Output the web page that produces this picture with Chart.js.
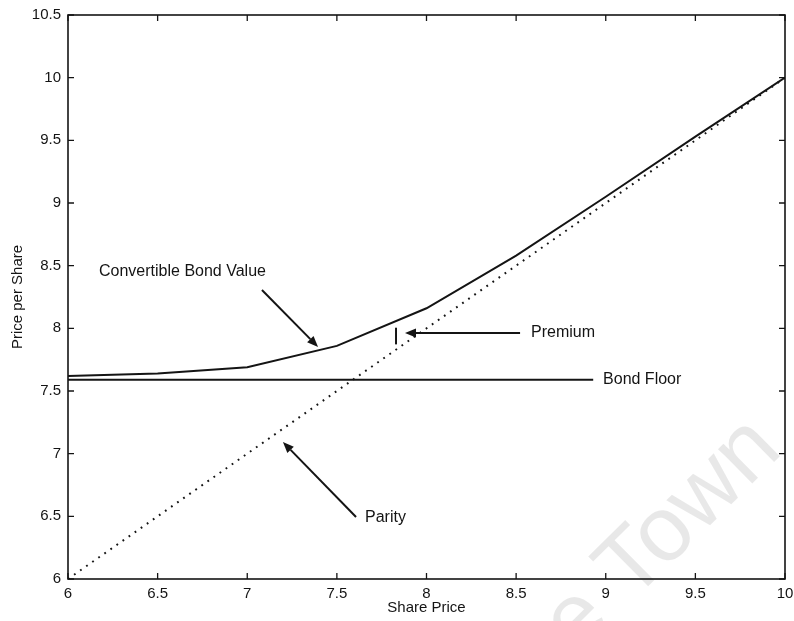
<!DOCTYPE html>
<html>
<head>
<meta charset="utf-8">
<script src="https://cdn.jsdelivr.net/npm/chart.js@4/dist/chart.umd.min.js"></script>
<style>
  html, body { margin: 0; padding: 0; background: #fff; }
  #wrap { width: 794px; height: 621px; }
</style>
</head>
<body>
<div id="wrap"><canvas id="c" width="794" height="621"></canvas></div>
<script>
// ---- data ----
const sharePrice = [6, 6.5, 7, 7.5, 8, 8.5, 9, 9.5, 10];
const convertibleBondValue = [7.62, 7.64, 7.69, 7.86, 8.16, 8.58, 9.05, 9.53, 10.0];
const parityX = [6, 10];
const parityY = [6, 10];
const bondFloorX = [6, 8.93];
const bondFloorY = [7.59, 7.59];
const xTickValues = [6, 6.5, 7, 7.5, 8, 8.5, 9, 9.5, 10];
const yTickValues = [6, 6.5, 7, 7.5, 8, 8.5, 9, 9.5, 10, 10.5];
const xTitle = 'Share Price';
const yTitle = 'Price per Share';

const FONT = '"Liberation Sans", Arial, Helvetica, sans-serif';
const INK = '#141414';

const toXY = (xs, ys) => xs.map((x, i) => ({ x: x, y: ys[i] }));

// annotations (text + arrows), placed in data coordinates
const annotations = {
  texts: [
    { text: 'Convertible Bond Value', x: 6.173, y: 8.45 },
    { text: 'Premium', x: 8.583, y: 7.963 },
    { text: 'Bond Floor', x: 8.985, y: 7.588 },
    { text: 'Parity', x: 7.657, y: 6.487 }
  ],
  arrows: [
    { from: [7.082, 8.306], to: [7.395, 7.851] },
    { from: [8.522, 7.963], to: [7.880, 7.963] },
    { from: [7.607, 6.495], to: [7.199, 7.093] }
  ],
  segments: [
    { from: [7.830, 8.005], to: [7.830, 7.872] }
  ]
};

const framePlugin = {
  id: 'frame',
  beforeDraw(chart) {
    // faint watermark
    const ctx = chart.ctx;
    ctx.save();
    ctx.translate(784, 452);
    ctx.rotate(-0.78);
    ctx.font = '92px ' + FONT;
    ctx.fillStyle = 'rgba(0,0,0,0.09)';
    ctx.textAlign = 'right';
    ctx.textBaseline = 'alphabetic';
    ctx.fillText('Cape Town', 0, 0);
    ctx.restore();
  },
  afterDraw(chart) {
    const ctx = chart.ctx;
    const a = chart.chartArea;
    const xs = chart.scales.x, ys = chart.scales.y;
    ctx.save();
    ctx.strokeStyle = INK;
    ctx.lineWidth = 1.6;
    ctx.strokeRect(a.left, a.top, a.right - a.left, a.bottom - a.top);
    const tl = 6;
    ctx.lineWidth = 1.3;
    ctx.beginPath();
    xs.ticks.forEach(t => {
      const px = xs.getPixelForValue(t.value);
      ctx.moveTo(px, a.bottom); ctx.lineTo(px, a.bottom - tl);
      ctx.moveTo(px, a.top); ctx.lineTo(px, a.top + tl);
    });
    ys.ticks.forEach(t => {
      const py = ys.getPixelForValue(t.value);
      ctx.moveTo(a.left, py); ctx.lineTo(a.left + tl, py);
      ctx.moveTo(a.right, py); ctx.lineTo(a.right - tl, py);
    });
    ctx.stroke();

    // annotations
    const P = (p) => [xs.getPixelForValue(p[0]), ys.getPixelForValue(p[1])];
    ctx.fillStyle = INK;
    ctx.font = '16px ' + FONT;
    ctx.textAlign = 'left';
    ctx.textBaseline = 'middle';
    annotations.texts.forEach(t => {
      ctx.fillText(t.text, xs.getPixelForValue(t.x), ys.getPixelForValue(t.y));
    });
    ctx.lineWidth = 2;
    annotations.arrows.forEach(ar => {
      const [x1, y1] = P(ar.from), [x2, y2] = P(ar.to);
      const ang = Math.atan2(y2 - y1, x2 - x1);
      const hl = 11, hw = 4.5;
      const bx = x2 - hl * Math.cos(ang), by = y2 - hl * Math.sin(ang);
      ctx.beginPath();
      ctx.moveTo(x1, y1); ctx.lineTo(bx, by);
      ctx.stroke();
      ctx.beginPath();
      ctx.moveTo(x2, y2);
      ctx.lineTo(bx + hw * Math.sin(ang), by - hw * Math.cos(ang));
      ctx.lineTo(bx - hw * Math.sin(ang), by + hw * Math.cos(ang));
      ctx.closePath();
      ctx.fill();
    });
    annotations.segments.forEach(s => {
      const [x1, y1] = P(s.from), [x2, y2] = P(s.to);
      ctx.beginPath(); ctx.moveTo(x1, y1); ctx.lineTo(x2, y2); ctx.stroke();
    });
    ctx.restore();
  }
};

const fmt = v => String(Math.round(v * 10) / 10);

new Chart(document.getElementById('c'), {
  type: 'line',
  data: {
    datasets: [
      {
        label: 'Convertible Bond Value',
        data: toXY(sharePrice, convertibleBondValue),
        borderColor: INK, borderWidth: 2, pointRadius: 0, tension: 0, fill: false
      },
      {
        label: 'Parity',
        data: toXY(parityX, parityY),
        borderColor: INK, borderWidth: 2, borderDash: [1.8, 5.6], borderCapStyle: 'butt',
        pointRadius: 0, tension: 0, fill: false
      },
      {
        label: 'Bond Floor',
        data: toXY(bondFloorX, bondFloorY),
        borderColor: INK, borderWidth: 2, pointRadius: 0, tension: 0, fill: false
      }
    ]
  },
  options: {
    responsive: false,
    animation: false,
    devicePixelRatio: 1,
    layout: { padding: { top: 15, right: 9, left: 0, bottom: 0 } },
    plugins: { legend: { display: false }, tooltip: { enabled: false } },
    scales: {
      x: {
        type: 'linear', min: 6, max: 10,
        afterBuildTicks: s => { s.ticks = xTickValues.map(v => ({ value: v })); },
        afterFit: s => { s.height = 42; s.paddingLeft = 0; s.paddingRight = 0; },
        grid: { display: false, drawTicks: false },
        border: { display: false },
        ticks: { color: INK, padding: 6, maxRotation: 0, autoSkip: false,
                 font: { family: FONT, size: 15 }, callback: v => fmt(v) },
        title: { display: true, text: xTitle, color: INK, padding: { top: 0, bottom: 4 },
                 font: { family: FONT, size: 15 } }
      },
      y: {
        type: 'linear', min: 6, max: 10.5,
        afterBuildTicks: s => { s.ticks = yTickValues.map(v => ({ value: v })); },
        afterFit: s => { s.width = 68; s.paddingTop = 0; s.paddingBottom = 0; },
        grid: { display: false, drawTicks: false },
        border: { display: false },
        ticks: { color: INK, padding: 7, autoSkip: false,
                 font: { family: FONT, size: 15 }, callback: v => fmt(v) },
        title: { display: true, text: yTitle, color: INK, padding: { top: 9, bottom: 0 },
                 font: { family: FONT, size: 15 } }
      }
    }
  },
  plugins: [framePlugin]
});
</script>
</body>
</html>
